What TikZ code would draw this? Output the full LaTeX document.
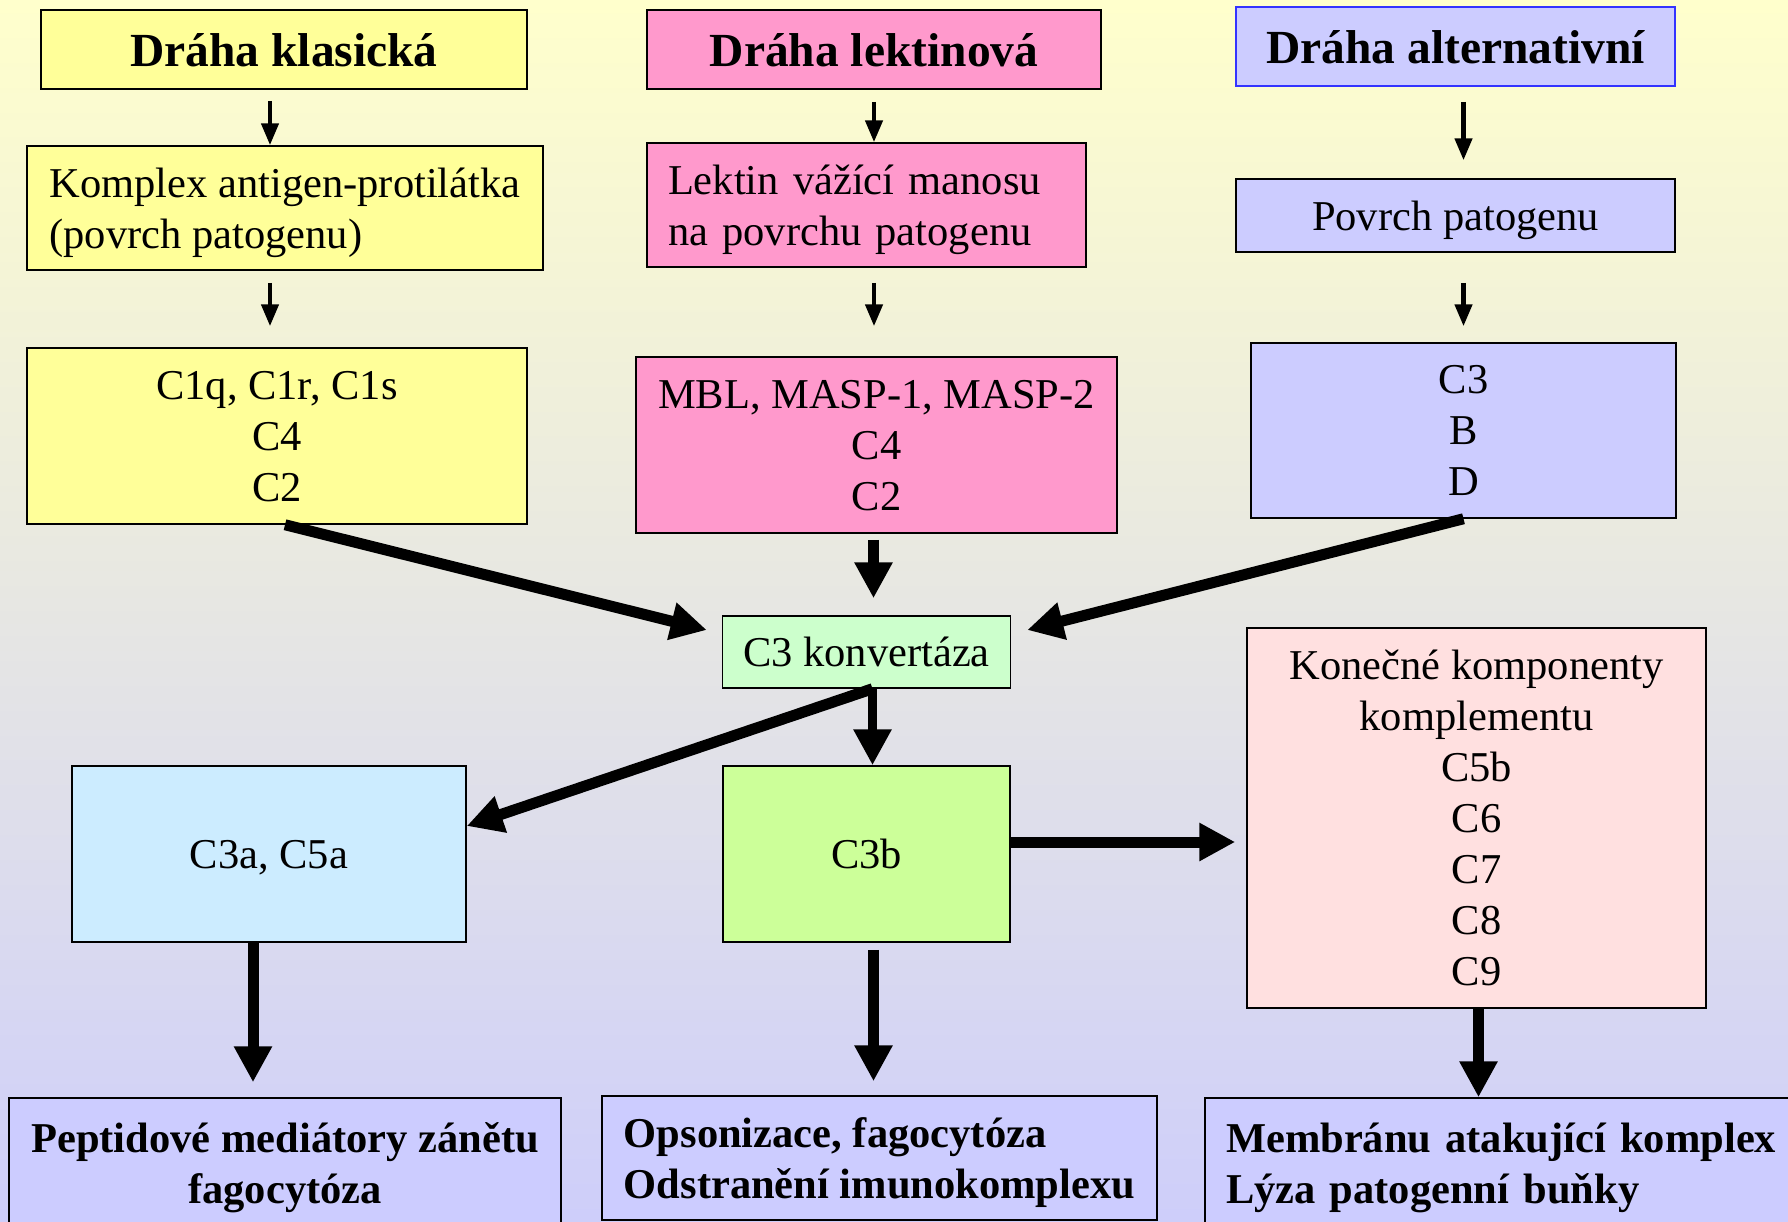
\documentclass[tikz,border=0pt]{standalone}
\usepackage{fontspec}
\setmainfont{Liberation Serif}
\usetikzlibrary{arrows.meta,calc}

\definecolor{klasfill}{RGB}{255,255,153}
\definecolor{lektfill}{RGB}{255,153,204}
\definecolor{altfill}{RGB}{204,204,255}
\definecolor{altline}{RGB}{51,51,255}
\definecolor{konvfill}{RGB}{204,255,204}
\definecolor{anafill}{RGB}{204,236,255}
\definecolor{opsfill}{RGB}{204,255,153}
\definecolor{termfill}{RGB}{255,224,224}
\definecolor{bgtop}{RGB}{255,255,204}
\definecolor{bgbottom}{RGB}{206,206,250}

\begin{document}
\begin{tikzpicture}[
        x=1pt, y=-1pt,
        font=\fontsize{42.5}{51}\selectfont,
        block/.style={draw=black, line width=1.5pt, inner sep=0pt, align=center, text depth=0pt},
        leftblock/.style={block, align=left},
        leftwide/.style={block, align=left, inner xsep=21pt, text depth=51pt},
        header/.style={block, font=\fontsize{47.5}{57}\selectfont\bfseries},
        result/.style={block, fill=altfill, font=\fontsize{42.5}{51}\selectfont\bfseries},
        thinarrow/.style={line width=4.5pt, -{Triangle[length=22pt,width=17pt]}},
        thickarrow/.style={line width=11pt, -{Triangle[length=36pt,width=36pt]}}
    ]
    \useasboundingbox (0,0) rectangle (1788,1221);
    \fill[top color=bgtop, bottom color=bgbottom] (0,0) rectangle (1788,1221);

    % classical pathway
    \node[header, fill=klasfill, minimum width=486pt, minimum height=79pt] (klas) at (284,49.5) {Dráha klasická};
    \node[leftblock, fill=klasfill, minimum width=516pt, minimum height=124pt] (komplex) at (285,208) {Komplex antigen-protilátka\\(povrch patogenu)};
    \node[block, fill=klasfill, minimum width=500pt, minimum height=176pt] (c1q) at (277,436) {C1q, C1r, C1s\\C4\\C2};

    % lectin pathway
    \node[header, fill=lektfill, minimum width=454pt, minimum height=79pt] (lekt) at (874,49.5) {Dráha lektinová};
    \node[leftwide, fill=lektfill, text width=397pt, minimum height=124pt] (lektin) at (866.5,205) {Lektin vážící manosu\\na povrchu patogenu};
    \node[block, fill=lektfill, minimum width=481pt, minimum height=176pt] (mbl) at (876.5,445) {MBL, MASP-1, MASP-2\\C4\\C2};

    % alternative pathway
    \node[header, draw=altline, fill=altfill, minimum width=439pt, minimum height=79pt] (alt) at (1455.5,46.5) {Dráha alternativní};
    \node[block, fill=altfill, minimum width=439pt, minimum height=73pt] (povrch) at (1455.5,215.5) {Povrch patogenu};
    \node[block, fill=altfill, minimum width=425pt, minimum height=175pt] (c3bd) at (1463.5,430.5) {C3\\B\\D};

    % convertase and products
    \node[block, fill=konvfill, minimum width=288pt, minimum height=72pt] (konv) at (866.5,652) {C3 konvertáza};
    \node[block, fill=anafill, minimum width=394pt, minimum height=176pt] (c3a) at (269,854) {C3a, C5a};
    \node[block, fill=opsfill, minimum width=287pt, minimum height=176pt] (c3b) at (866.5,854) {C3b};
    \node[block, fill=termfill, minimum width=459pt, minimum height=380pt] (konec) at (1476.5,818) {Konečné komponenty\\komplementu\\C5b\\C6\\C7\\C8\\C9};

    % effects
    \node[result, minimum width=552pt, minimum height=130pt] (pept) at (285,1163) {Peptidové mediátory zánětu\\fagocytóza};
    \node[result, align=left, minimum width=555pt, minimum height=124pt] (opson) at (879.5,1158) {Opsonizace, fagocytóza\\Odstranění imunokomplexu};
    \node[result, leftwide, text width=600pt, minimum height=130pt] (membr) at (1526,1163) {Membránu atakující komplex\\Lýza patogenní buňky};

    % thin arrows
    \draw[thinarrow] ($(klas.south)+(-14,11)$) -- ($(klas.south |- komplex.north)+(-14,0)$);
    \draw[thinarrow] ($(komplex.south)+(-15,12)$) -- ($(komplex.south |- c1q.north)+(-15,-21)$);
    \draw[thinarrow] ($(lekt.south)+(0,12)$) -- (lekt.south |- lektin.north);
    \draw[thinarrow] ($(lekt.south |- lektin.south)+(0,15)$) -- ($(lekt.south |- mbl.north)+(0,-30)$);
    \draw[thinarrow] ($(alt.south)+(8,15)$) -- ($(alt.south |- povrch.north)+(8,-18)$);
    \draw[thinarrow] ($(povrch.south)+(8,30)$) -- ($(povrch.south |- c3bd.north)+(8,-16)$);

    % thick arrows
    \draw[thickarrow] ($(c1q.south)+(8,0)$) -- ($(konv.west)+(-15,-22)$);
    \draw[thickarrow] (c3bd.south) -- ($(konv.east)+(16,-22)$);
    \draw[thickarrow] ($(mbl.south)+(-3,6)$) -- ($(mbl.south |- konv.north)+(-3,-17)$);
    \draw[thickarrow] ($(konv.south)+(6,0)$) -- ($(c3a.east)+(0,-28)$);
    \draw[thickarrow, line width=9pt] ($(konv.south)+(6,0)$) -- ($(konv.south |- c3b.north)+(6,0)$);
    \draw[thickarrow] ($(c3b.east)+(0,-12)$) -- ($(c3b.east -| konec.west)+(-11,-12)$);
    \draw[thickarrow] ($(c3a.south)+(-16,0)$) -- ($(c3a.south |- pept.north)+(-16,-15)$);
    \draw[thickarrow] ($(c3b.south)+(7,7)$) -- ($(c3b.south |- opson.north)+(7,-14)$);
    \draw[thickarrow] ($(konec.south)+(2,0)$) -- ($(konec.south |- membr.north)+(2,0)$);
\end{tikzpicture}
\end{document}
